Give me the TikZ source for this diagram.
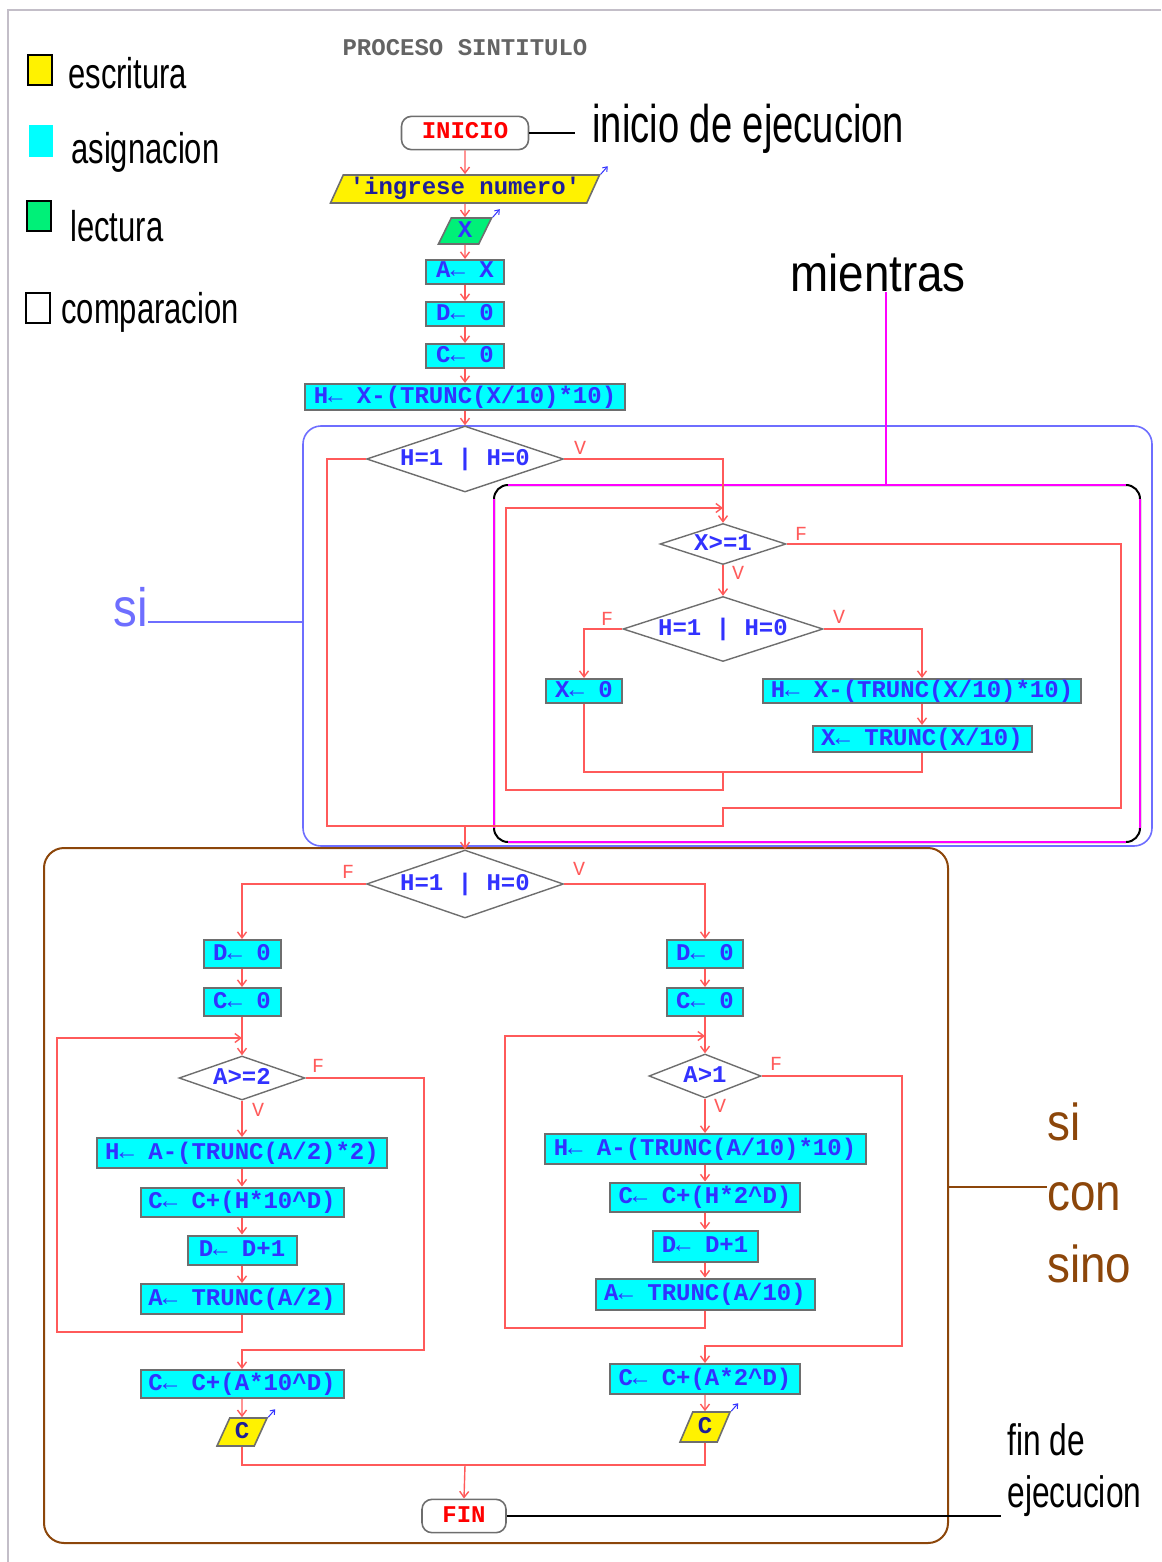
\documentclass[tikz,border=0pt]{standalone}
\usepackage{fontspec}
\setmainfont{Liberation Sans}
\newfontfamily\narrowfont[FakeStretch=0.72]{Liberation Sans}
\newfontfamily\labelfont[FakeStretch=0.88]{Liberation Sans}
\newfontfamily\codefont{Liberation Mono}
\usetikzlibrary{shapes.geometric, arrows.meta, positioning}

\definecolor{flowred}{RGB}{255,90,90}
\definecolor{codeblue}{RGB}{50,50,255}
\definecolor{boxgray}{RGB}{110,110,110}
\definecolor{asigcyan}{RGB}{0,255,255}
\definecolor{whilemag}{RGB}{255,0,255}
\definecolor{sibl}{RGB}{110,110,255}
\definecolor{sinobrown}{RGB}{140,70,10}
\definecolor{readgreen}{RGB}{0,240,120}
\definecolor{framegray}{RGB}{195,190,200}
\definecolor{titlegray}{RGB}{100,100,100}

\tikzset{
  flow/.style={flowred, line width=0.7pt},
  arr/.style={-{Straight Barb[length=3pt,width=4.5pt]}},
  ioarr/.style={codeblue, line width=0.5pt, -{Straight Barb[length=2pt,width=3pt]}},
  codetext/.style={font=\codefont\bfseries\fontsize{12}{12}\selectfont, text height=8pt, text depth=2pt},
  asig/.style={rectangle, draw=boxgray, line width=1pt, fill=asigcyan, inner sep=1pt, text=codeblue, codetext},
  comp/.style={diamond, aspect=3, draw=boxgray, line width=0.7pt, fill=white, inner sep=0pt, text=codeblue, codetext},
  escr/.style={trapezium, trapezium left angle=62, trapezium right angle=118, trapezium stretches body,
    draw=boxgray, line width=0.8pt, fill=yellow, inner sep=1pt, text=codeblue!60!black, codetext},
  lect/.style={escr, fill=readgreen, text=codeblue},
  term/.style={rectangle, rounded corners=5pt, draw=boxgray, line width=0.8pt, fill=white, text=red, codetext},
  vf/.style={text=flowred, font=\codefont\fontsize{10}{10}\selectfont, inner sep=0pt},
  key/.style={rectangle, draw=black, line width=1pt, minimum width=12pt, minimum height=15pt, inner sep=0pt},
  legtext/.style={anchor=base west, inner sep=0pt, font=\narrowfont\fontsize{21.5}{24}\selectfont},
  bigtext/.style={anchor=base west, inner sep=0pt, font=\labelfont\fontsize{26}{30}\selectfont},
  leader/.style={black, line width=1pt}
}

\begin{document}
\begin{tikzpicture}[x=0.5pt, y=-0.5pt]
  \useasboundingbox (0,0) rectangle (1161,1562);
  % frame
  \draw[framegray, line width=1pt] (8,1562) -- (8,10) -- (1161,10);

  % legend
  \node[key, fill=yellow] (k1) at (40,70) {};
  \node[key, draw=none, fill=asigcyan, minimum height=16pt] (k2) at (41,141) {};
  \node[key, fill=readgreen] (k3) at (38.5,216) {};
  \node[key, fill=white] (k4) at (38,307.5) {};
  \node[legtext] (t1) at (68,89) {escritura};
  \node[legtext] (t2) at (71,164) {asignacion};
  \node[legtext] (t3) at (70,242) {lectura};
  \node[legtext] (t4) at (61,323) {comparacion};

  % title
  \node[font=\codefont\bfseries\fontsize{12}{12}\selectfont, text=titlegray] (title) at (465,48) {PROCESO SINTITULO};

  % regions
  \draw[sibl, line width=0.8pt, rounded corners=9pt] (303,426) rectangle (1152,846);
  \draw[line width=1pt, rounded corners=7pt] (494,485) rectangle (1140,842);
  \draw[whilemag, line width=1pt] (508,485) -- (1126,485) (1140,499) -- (1140,828)
        (1126,842) -- (508,842) (494,828) -- (494,499);
  \draw[sinobrown, line width=1pt, rounded corners=10pt] (44,848) rectangle (948,1543);

  % main column
  \node[term, minimum width=63.5pt, minimum height=13pt] (inicio) at (465,133) {INICIO};
  \node[escr, minimum width=134.5pt, minimum height=14pt] (ing) at (465,189) {\textquotesingle ingrese numero\textquotesingle};
  \node[lect, minimum width=26.5pt, minimum height=13pt] (lx) at (465,231) {X};
  \node[asig, minimum width=39pt, minimum height=11.5pt] (a1) at (465,272) {A← X};
  \node[asig, minimum width=39pt, minimum height=11.5pt] (a2) at (465,314) {D← 0};
  \node[asig, minimum width=39pt, minimum height=11.5pt] (a3) at (465,356) {C← 0};
  \node[asig, minimum width=160pt, minimum height=13pt] (a4) at (465,397) {H← X-(TRUNC(X/10)*10)};
  \node[comp, minimum width=98.5pt, minimum height=33pt] (d1) at (465,459) {H=1 | H=0};

  % mientras
  \node[comp, minimum width=63pt, minimum height=20.5pt] (w1) at (723,544) {X>=1};
  \node[comp, minimum width=100pt, minimum height=32.5pt] (w2) at (723,629) {H=1 | H=0};
  \node[asig, minimum width=38pt, minimum height=12pt] (x0) at (584,691) {X← 0};
  \node[asig, minimum width=159pt, minimum height=12pt] (hx) at (922,691) {H← X-(TRUNC(X/10)*10)};
  \node[asig, minimum width=109.5pt, minimum height=13pt] (xt) at (922,739) {X← TRUNC(X/10)};

  % si con sino
  \node[comp, minimum width=98.5pt, minimum height=34pt] (d3) at (465,884) {H=1 | H=0};
  % left side
  \node[asig, minimum width=38.5pt, minimum height=14pt] (ld0) at (242,954) {D← 0};
  \node[asig, minimum width=38.5pt, minimum height=14pt] (lc0) at (242,1002) {C← 0};
  \node[comp, minimum width=63pt, minimum height=22pt] (lw) at (242,1078) {A>=2};
  \node[asig, minimum width=145pt, minimum height=15pt] (lh) at (242,1153) {H← A-(TRUNC(A/2)*2)};
  \node[asig, minimum width=101.5pt, minimum height=14.5pt] (lc) at (242,1202) {C← C+(H*10\textasciicircum D)};
  \node[asig, minimum width=54.5pt, minimum height=14.5pt] (ld) at (242,1250) {D← D+1};
  \node[asig, minimum width=101.5pt, minimum height=15pt] (la) at (242,1299) {A← TRUNC(A/2)};
  \node[asig, minimum width=101.5pt, minimum height=14pt] (lcf) at (242,1384) {C← C+(A*10\textasciicircum D)};
  \node[escr, minimum width=25pt, minimum height=14pt] (lout) at (242,1432) {C};
  % right side
  \node[asig, minimum width=38pt, minimum height=14pt] (rd0) at (705,954) {D← 0};
  \node[asig, minimum width=38pt, minimum height=14pt] (rc0) at (705,1002) {C← 0};
  \node[comp, minimum width=56pt, minimum height=22pt] (rw) at (705,1076) {A>1};
  \node[asig, minimum width=160.5pt, minimum height=15pt] (rh) at (705,1149) {H← A-(TRUNC(A/10)*10)};
  \node[asig, minimum width=95pt, minimum height=14.5pt] (rc) at (705,1197) {C← C+(H*2\textasciicircum D)};
  \node[asig, minimum width=52.5pt, minimum height=15.5pt] (rd) at (705,1246) {D← D+1};
  \node[asig, minimum width=109.5pt, minimum height=15.5pt] (ra) at (705,1294) {A← TRUNC(A/10)};
  \node[asig, minimum width=95pt, minimum height=15pt] (rcf) at (705,1379) {C← C+(A*2\textasciicircum D)};
  \node[escr, minimum width=25pt, minimum height=15pt] (rout) at (705,1427) {C};
  \node[term, minimum width=42pt, minimum height=13.5pt] (fin) at (464,1516) {FIN};

  % little arrows of the in/out boxes
  \foreach \n in {ing, lx, lout, rout}
    \draw[ioarr] (\n.top right corner) -- ++(7,-8);

  % bends
  \coordinate (siL) at (327,826);
  \coordinate (m1) at (465,826);
  \coordinate (lp) at (723,508);
  \coordinate (j2) at (723,772);
  \coordinate (wb) at (506,790);
  \coordinate (wf) at (1121,808);
  \coordinate (wj) at (723,826);
  \coordinate (llp) at (242,1038);
  \coordinate (lb) at (57,1332);
  \coordinate (lf) at (424,1350);
  \coordinate (rlp) at (705,1036);
  \coordinate (rb) at (505,1328);
  \coordinate (rf) at (902,1346);
  \coordinate (m2) at (465,1465);

  % straight arrows
  \foreach \a/\b in {inicio/ing, ing/lx, lx/a1, a1/a2, a2/a3, a3/a4, a4/d1, w1/w2, hx/xt,
                     ld0/lc0, lc0/lw, lw/lh, lh/lc, lc/ld, ld/la, lcf/lout,
                     rd0/rc0, rc0/rw, rw/rh, rh/rc, rc/rd, rd/ra, rcf/rout}
    \draw[flow, arr] (\a.south) -- (\b.north);

  % si
  \draw[flow] (d1.west) -| (siL) -- (m1);
  \draw[flow, arr] (d1.east) -| (w1.north);
  \draw[flow, arr] (w2.west) -| (x0.north);
  \draw[flow, arr] (w2.east) -| (hx.north);
  \draw[flow] (x0.south) |- (j2) -| (xt.south);
  \draw[flow, arr] (j2) |- (wb) |- (lp);
  \draw[flow] (w1.east) -| (wf) -| (wj) -- (m1);
  \draw[flow, arr] (m1) -- (d3.north);

  % si con sino
  \draw[flow, arr] (d3.west) -| (ld0.north);
  \draw[flow, arr] (d3.east) -| (rd0.north);
  \draw[flow, arr] (la.south) |- (lb) |- (llp);
  \draw[flow, arr] (lw.east) -| (lf) -| (lcf.north);
  \draw[flow, arr] (ra.south) |- (rb) |- (rlp);
  \draw[flow, arr] (rw.east) -| (rf) -| (rcf.north);
  \draw[flow] (lout.south) |- (m2) -| (rout.south);
  \draw[flow, arr] (m2) -- (fin.north);

  % V / F
  \foreach \x/\y/\t [count=\i] in {580/448/V, 801/534/F, 738/573/V, 607/619/F, 839/617/V,
                                   348/872/F, 579/869/V, 318/1066/F, 258/1110/V, 776/1064/F, 720/1106/V}
    \node[vf] (vf\i) at (\x,\y) {\t};

  % notes
  \node[legtext, font=\narrowfont\fontsize{26.5}{30}\selectfont] (tinicio) at (592,143) {inicio de ejecucion};
  \coordinate (ci) at (575,133);
  \draw[leader] (inicio.east) -- (ci);

  \node[bigtext] (tmien) at (790,292) {mientras};
  \coordinate (cm) at (886,484);
  \draw[whilemag, line width=1pt] (cm |- tmien.base) -- (cm);

  \node[bigtext, text=sibl, font=\labelfont\fontsize{27}{30}\selectfont] (tsi) at (113,626) {si};
  \coordinate (cs) at (303,622);
  \draw[sibl, line width=0.8pt] (tsi.east |- cs) -- (cs);

  \node[bigtext, text=sinobrown] (tsi2) at (1047,1140) {si};
  \node[bigtext, text=sinobrown] (tcon) at (1047,1210) {con};
  \node[bigtext, text=sinobrown] (tsino) at (1047,1282) {sino};
  \coordinate (cb) at (948,1187);
  \draw[sinobrown, line width=1pt] (cb) -- (cb -| tcon.west);

  \node[legtext, font=\narrowfont\fontsize{22}{24}\selectfont] (tfin1) at (1007,1455) {fin de};
  \node[legtext, font=\narrowfont\fontsize{22}{24}\selectfont] (tfin2) at (1007,1507) {ejecucion};
  \coordinate (cf) at (1001,1516);
  \draw[leader] (fin.east) -- (cf);
\end{tikzpicture}
\end{document}
